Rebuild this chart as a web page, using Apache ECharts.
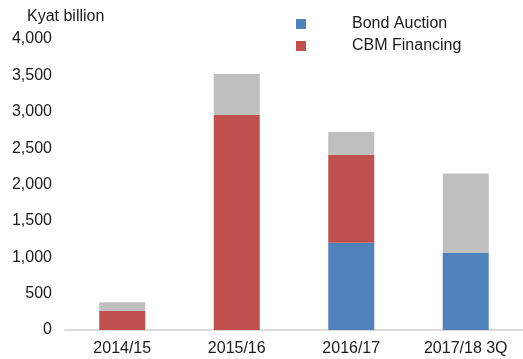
<!DOCTYPE html>
<html>
<head>
<meta charset="utf-8">
<script src="https://cdn.jsdelivr.net/npm/echarts@6/dist/echarts.min.js"></script>
<style>
  html, body { margin: 0; padding: 0; background: #fff; }
  #chart { width: 523px; height: 359px; }
</style>
</head>
<body>
<div id="chart"></div>
<script>
// Fiscal periods on the x axis
const categories = ['2014/15', '2015/16', '2016/17', '2017/18 3Q'];
// Government deficit financing, Kyat billion
const bondAuction = [0, 0, 1200, 1060];
const cbmFinancing = [265, 2960, 1210, 0];
const otherSources = [115, 560, 310, 1090];

const FONT = '"Liberation Sans", Arial, sans-serif';
const TEXT = '#1a1a1a';

const chart = echarts.init(document.getElementById('chart'), null, { renderer: 'canvas' });

chart.setOption({
  animation: false,
  backgroundColor: '#ffffff',
  textStyle: { fontFamily: FONT },
  title: {
    text: 'Kyat billion',
    left: 22,
    top: 4,
    textStyle: { fontFamily: FONT, fontSize: 16, fontWeight: 'normal', color: TEXT }
  },
  legend: {
    data: ['Bond Auction', 'CBM Financing'],
    orient: 'vertical',
    left: 291,
    top: 11,
    itemWidth: 10,
    itemHeight: 10,
    itemGap: 6,
    icon: 'rect',
    textStyle: {
      fontFamily: FONT, fontSize: 16, color: TEXT, lineHeight: 16,
      padding: [0, 0, 0, 41]
    }
  },
  grid: { left: 65, top: 39, bottom: 29, width: 461, containLabel: false },
  xAxis: {
    type: 'category',
    data: categories,
    axisLine: { lineStyle: { color: '#d9d9d9', width: 2 } },
    axisTick: { show: false },
    axisLabel: { fontFamily: FONT, fontSize: 16, color: TEXT, margin: 11 }
  },
  yAxis: {
    type: 'value',
    min: 0,
    max: 4000,
    interval: 500,
    splitLine: { show: false },
    axisLine: { show: false },
    axisTick: { show: false },
    axisLabel: {
      fontFamily: FONT, fontSize: 16, color: TEXT, margin: 13,
      formatter: v => v.toLocaleString('en-US')
    }
  },
  series: [
    {
      name: 'Bond Auction', type: 'bar', stack: 'total', barWidth: 46,
      itemStyle: { color: '#4f81bd' }, data: bondAuction
    },
    {
      name: 'CBM Financing', type: 'bar', stack: 'total', barWidth: 46,
      itemStyle: { color: '#c0504d' }, data: cbmFinancing
    },
    {
      name: 'Others', type: 'bar', stack: 'total', barWidth: 46,
      itemStyle: { color: '#bfbfbf' }, data: otherSources
    }
  ]
});
</script>
</body>
</html>
